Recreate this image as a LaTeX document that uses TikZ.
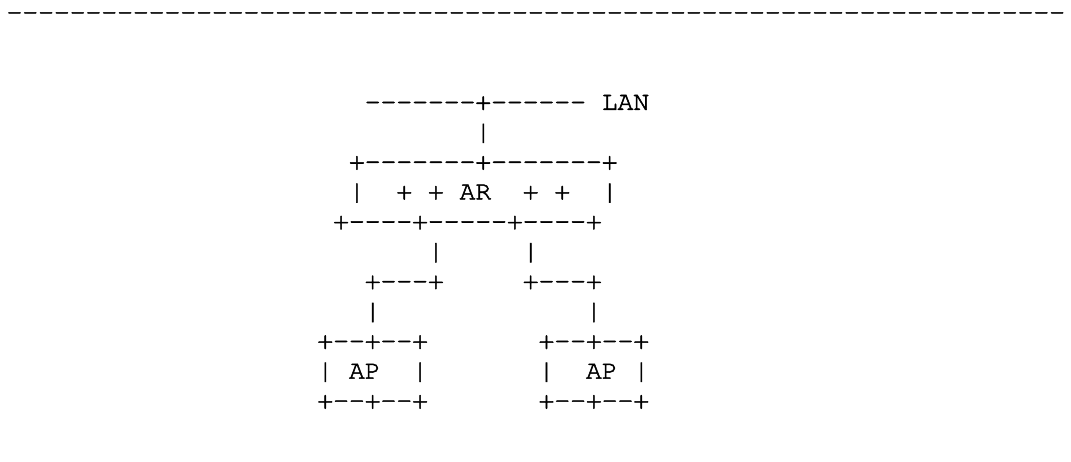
\documentclass[tikz,border=0pt]{standalone}
\usepackage{fontspec}
\setmonofont{TeX Gyre Cursor}[Ligatures=TeXOff,FakeBold=2]
\tikzset{
  seg/.style={anchor=base west, inner sep=0pt, outer sep=0pt,
    font=\ttfamily\fontsize{26.33}{26.33}\selectfont, text=black},
}
% column c, row r
\newcommand\seg[4]{\node[seg] (#1) at ({1.4+15.8*#2},{20.2+29.87*#3}) {#4};}
\begin{document}
\begin{tikzpicture}[x=1pt,y=-1pt]
\useasboundingbox (0,0) rectangle (1071,461);
\node[seg] (top) at (6.6,20.2) {-------------------------------------------------------------------};
% LAN line
\seg{lanl}{23}{3}{-------+------}
\seg{lan}{38}{3}{LAN}
\seg{v1}{30}{4}{|}
% AR box
\seg{artop}{22}{5}{+-------+-------+}
\seg{arl}{22}{6}{|}
\seg{arp1}{25}{6}{+ +}
\seg{ar}{29}{6}{AR}
\seg{arp2}{33}{6}{+ +}
\seg{arr}{38}{6}{|}
\seg{arbot}{21}{7}{+----+-----+----+}
% links
\seg{v2}{27}{8}{|}
\seg{v3}{33}{8}{|}
\seg{k1}{23}{9}{+---+}
\seg{k2}{33}{9}{+---+}
\seg{v4}{23}{10}{|}
\seg{v5}{37}{10}{|}
% AP boxes
\seg{ap1t}{20}{11}{+--+--+}
\seg{ap2t}{34}{11}{+--+--+}
\seg{ap1l}{20}{12}{|}
\seg{ap1}{22}{12}{AP}
\seg{ap1r}{26}{12}{|}
\seg{ap2l}{34}{12}{|}
\seg{ap2}{37}{12}{AP}
\seg{ap2r}{40}{12}{|}
\seg{ap1b}{20}{13}{+--+--+}
\seg{ap2b}{34}{13}{+--+--+}
\end{tikzpicture}
\end{document}
